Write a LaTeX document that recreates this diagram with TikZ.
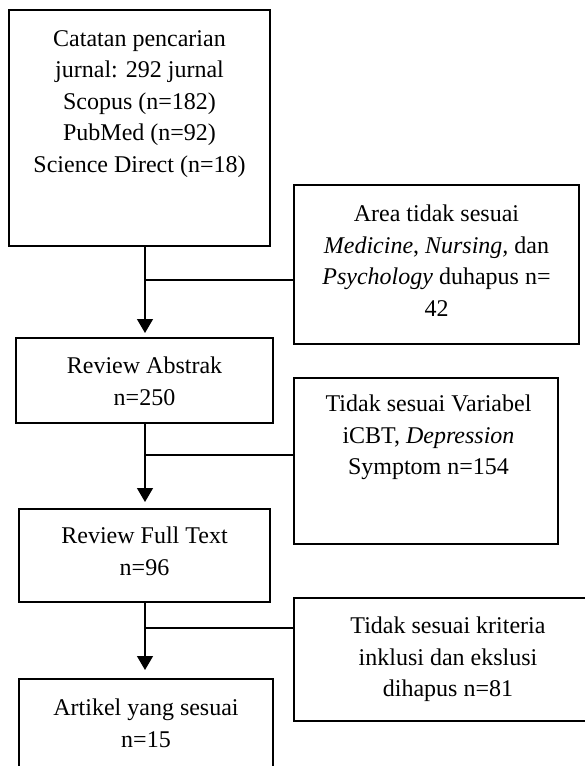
\documentclass[tikz,border=0pt]{standalone}
\usepackage{fontspec}
\setmainfont{Liberation Serif}
\usetikzlibrary{arrows.meta}
\begin{document}
\begin{tikzpicture}[x={(1pt,0)},y={(0,-1pt)},
  box/.style={draw=black,line width=1.4pt,rectangle,inner sep=0pt,outer sep=0pt},
  txt/.style={anchor=north,align=center,inner sep=0pt,font=\fontsize{24}{31.5}\selectfont,execute at begin node=\strut},
  conn/.style={draw=black,line width=1.3pt},
  arr/.style={conn,-{Triangle[width=16pt,length=14pt]}}]
\path[use as bounding box] (0,0) rectangle (585,766);
\fill[white] (0,0) rectangle (585,766);
\clip (0,0) rectangle (585,766);
% boxes
\node[box,minimum width=261pt,minimum height=236pt] (b1) at (139.5,128) {};
\node[box,minimum width=285pt,minimum height=159pt] (b2) at (436.5,264.5) {};
\node[box,minimum width=257pt,minimum height=85pt] (b3) at (144.5,380.5) {};
\node[box,minimum width=264pt,minimum height=166pt] (b4) at (426,461) {};
\node[box,minimum width=251pt,minimum height=93pt] (b5) at (144.5,555.5) {};
\node[box,minimum width=308pt,minimum height=123pt] (b6) at (448,659.5) {};
\node[box,minimum width=254pt,minimum height=121pt] (b7) at (146,739.5) {};
% texts
\node[txt] (t1) at ([yshift=-20pt]b1.north) {Catatan pencarian\\jurnal: 292 jurnal\\Scopus (n=182)\\PubMed (n=92)\\Science Direct (n=18)};
\node[txt] (t2) at ([yshift=-20pt]b2.north) {Area tidak sesuai\\\textit{Medicine}, \textit{Nursing,} dan\\\textit{Psychology} duhapus n=\\42};
\node[txt] (t3) at ([yshift=-19pt]b3.north) {Review Abstrak\\n=250};
\node[txt] (t4) at ([xshift=2.5pt,yshift=-17pt]b4.north) {Tidak sesuai Variabel\\iCBT, \textit{Depression}\\Symptom n=154};
\node[txt] (t5) at ([yshift=-18pt]b5.north) {Review Full Text\\n=96};
\node[txt] (t6) at ([yshift=-19pt]b6.north) {Tidak sesuai kriteria\\inklusi dan ekslusi\\dihapus n=81};
\node[txt] (t7) at ([yshift=-20pt]b7.north) {Artikel yang sesuai\\n=15};
% junctions
\coordinate (j1) at (145,280);
\coordinate (j2) at (145,455);
\coordinate (j3) at (145,628);
% connectors
\draw[arr,shorten >=5pt] (b1.south -| j1) -- (b3.north -| j1);
\draw[conn] (j1) -- (j1 -| b2.west);
\draw[arr,shorten >=7pt] (b3.south -| j2) -- (b5.north -| j2);
\draw[conn] (j2) -- (j2 -| b4.west);
\draw[arr,shorten >=9pt] (b5.south -| j3) -- (b7.north -| j3);
\draw[conn] (j3) -- (j3 -| b6.west);
\end{tikzpicture}
\end{document}
